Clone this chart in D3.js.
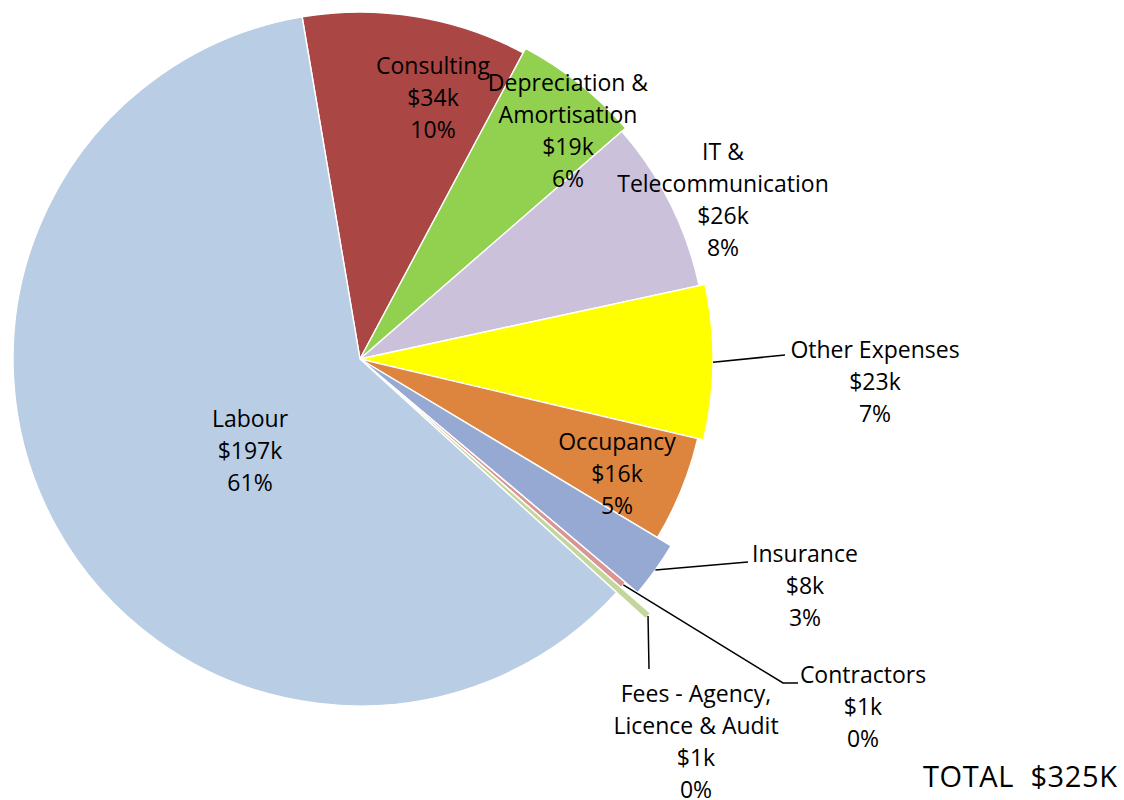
<!DOCTYPE html>
<html>
<head>
<meta charset="utf-8">
<script src="https://cdn.jsdelivr.net/npm/d3@7"></script>
<style>
  html, body { margin: 0; padding: 0; background: #ffffff; }
  svg { display: block; }
  text { font-family: "Open Sans", "Noto Sans", sans-serif; fill: #000; }
</style>
</head>
<body>
<script>
// ---------------- DATA ----------------
const categories = [
  "Consulting",
  "Depreciation & Amortisation",
  "IT & Telecommunication",
  "Other Expenses",
  "Occupancy",
  "Insurance",
  "Contractors",
  "Fees - Agency, Licence & Audit",
  "Labour"
];
const values = [34.0, 18.9, 26.0, 23.0, 16.0, 8.2, 1.0, 1.0, 196.9]; // $k
const labelLines = [
  ["Consulting"],
  ["Depreciation &", "Amortisation"],
  ["IT &", "Telecommunication"],
  ["Other Expenses"],
  ["Occupancy"],
  ["Insurance"],
  ["Contractors"],
  ["Fees - Agency,", "Licence & Audit"],
  ["Labour"]
];
const totalLabel = "TOTAL  $325K";

// ---------------- STYLE / LAYOUT ----------------
const colors = ["#AA4644", "#92D050", "#CCC1DA", "#FFFF00", "#DD853F", "#95A9D2", "#D99594", "#C3D69B", "#B9CDE5"];
const W = 1124, H = 800;
const cx = 360, cy = 359;
const baseR = 347;
const radiusExtra = [0, 5, 0, 6, 0, 16, 0, 39, 0];
const startDeg = -9.6;
// label anchors: [centerX, firstBaselineY]
const labelPos = [
  [433, 74], [568, 91], [723, 160], [875, 358], [617, 450],
  [805, 562], [863, 683], [696, 702], [250, 427]
];
// leader lines: end points (label side)
const leaders = [
  null, null, null,
  [[785, 355]],
  null,
  [[748, 562]],
  [[783, 683], [798, 683]],
  [[649, 669]],
  null
];
const lineGap = 32.1;

// ---------------- DRAW ----------------
const svg = d3.select("body").append("svg")
  .attr("width", W).attr("height", H)
  .attr("viewBox", `0 0 ${W} ${H}`);
svg.append("rect").attr("width", W).attr("height", H).attr("fill", "#fff");

const total = d3.sum(values);
const start = startDeg * Math.PI / 180;
const pie = d3.pie().sort(null).value(d => d)
  .startAngle(start).endAngle(start + 2 * Math.PI);
const arcs = pie(values);

const g = svg.append("g").attr("transform", `translate(${cx},${cy})`);
const arcGen = d3.arc().innerRadius(0);

g.selectAll("path.slice")
  .data(arcs)
  .join("path")
  .attr("class", "slice")
  .attr("d", (d, i) => arcGen.outerRadius(baseR + radiusExtra[i])(d))
  .attr("fill", (d, i) => colors[i])
  .attr("stroke", "#ffffff")
  .attr("stroke-width", 1.4)
  .attr("stroke-linejoin", "round");

// leader lines: start at slice outer edge at mid angle
arcs.forEach((d, i) => {
  if (!leaders[i]) return;
  const a = (d.startAngle + d.endAngle) / 2;
  const r = baseR + radiusExtra[i];
  const p0 = [cx + r * Math.sin(a), cy - r * Math.cos(a)];
  const pts = [p0, ...leaders[i]];
  svg.append("path")
    .attr("d", d3.line()(pts))
    .attr("fill", "none")
    .attr("stroke", "#000")
    .attr("stroke-width", 1.5);
});

// labels
arcs.forEach((d, i) => {
  const lines = [
    ...labelLines[i],
    "$" + Math.round(values[i]) + "k",
    Math.round(values[i] / total * 100) + "%"
  ];
  const t = svg.append("text")
    .attr("text-anchor", "middle")
    .attr("font-size", 23);
  lines.forEach((ln, k) => {
    t.append("tspan")
      .attr("x", labelPos[i][0])
      .attr("y", labelPos[i][1] + k * lineGap)
      .text(ln);
  });
});

svg.append("text")
  .attr("x", 923).attr("y", 787)
  .attr("font-size", 29)
  .attr("textLength", 194)
  .attr("lengthAdjust", "spacing")
  .style("white-space", "pre")
  .text(totalLabel);
</script>
</body>
</html>
